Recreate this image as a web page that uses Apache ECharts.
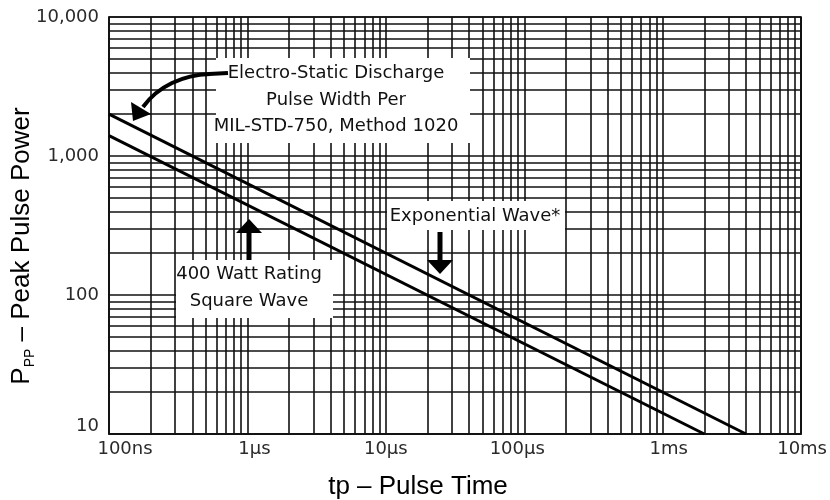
<!DOCTYPE html>
<html>
<head>
<meta charset="utf-8">
<script src="https://cdn.jsdelivr.net/npm/echarts@6/dist/echarts.min.js"></script>
<style>html,body{margin:0;padding:0;background:#fff}#c{width:830px;height:500px}</style>
</head>
<body>
<div id="c"></div>
<script>
// Data (time in seconds, power in watts)
const xTickLabels = ['100ns', '1µs', '10µs', '100µs', '1ms', '10ms'];
const yTickLabels = ['10', '100', '1,000', '10,000'];
const exponentialWave = [[1e-7, 2000], [4e-3, 10]];
const squareWave = [[1e-7, 1400], [2e-3, 10]];

const LBL = 'DejaVu Sans';
const chart = echarts.init(document.getElementById('c'));

const xRich = {
  t0: {padding: [0, 0, 0, 32]},
  t1: {padding: [0, 0, 0, 14]},
  t2: {},
  t3: {padding: [0, 14, 0, 0]},
  t4: {padding: [0, 0, 0, 12]},
  t5: {padding: [0, 0, 0, 2]}
};
Object.keys(xRich).forEach(k => Object.assign(xRich[k], {fontFamily: LBL, fontSize: 18, color: '#2a2a2a'}));
const yRich = {
  l0: {padding: [0, 0, 16, 0]}, l1: {}, l2: {}, l3: {}
};
Object.keys(yRich).forEach(k => Object.assign(yRich[k], {fontFamily: LBL, fontSize: 18, color: '#2a2a2a'}));

const gridLine = {color: '#111', width: 1.6};

chart.setOption({
  animation: false,
  backgroundColor: '#fff',
  grid: {left: 109, right: 28, top: 17, bottom: 66, show: true, borderColor: '#111', borderWidth: 1.5},
  xAxis: {
    type: 'log', logBase: 10, min: 1e-7, max: 1e-2,
    axisLine: {show: true, lineStyle: {color: '#111', width: 1.5}},
    axisTick: {show: false},
    minorTick: {show: false, splitNumber: 9},
    splitLine: {show: true, lineStyle: gridLine},
    minorSplitLine: {show: true, lineStyle: gridLine},
    axisLabel: {
      margin: 6, showMinLabel: true, showMaxLabel: true,
      formatter: v => { const i = Math.round(Math.log10(v)) + 7; return '{t' + i + '|' + xTickLabels[i] + '}'; },
      rich: xRich
    }
  },
  yAxis: {
    type: 'log', logBase: 10, min: 10, max: 10000,
    axisLine: {show: true, lineStyle: {color: '#111', width: 1.5}},
    axisTick: {show: false},
    minorTick: {show: false, splitNumber: 9},
    splitLine: {show: true, lineStyle: gridLine},
    minorSplitLine: {show: true, lineStyle: gridLine},
    axisLabel: {
      margin: 10, showMinLabel: true, showMaxLabel: true,
      formatter: v => { const i = Math.round(Math.log10(v)) - 1; return '{l' + i + '|' + yTickLabels[i] + '}'; },
      rich: yRich
    }
  },
  series: [
    {name: 'Exponential Wave', type: 'line', data: exponentialWave, symbol: 'none', silent: true,
     lineStyle: {color: '#000', width: 3}, z: 5},
    {name: 'Square Wave', type: 'line', data: squareWave, symbol: 'none', silent: true,
     lineStyle: {color: '#000', width: 3}, z: 5}
  ],
  graphic: [
    // white label boxes
    {type: 'rect', z: 100, shape: {x: 216, y: 58, width: 254, height: 85}, style: {fill: '#fff'}},
    {type: 'rect', z: 100, shape: {x: 387, y: 201, width: 178, height: 29}, style: {fill: '#fff'}},
    {type: 'rect', z: 100, shape: {x: 176, y: 260, width: 157, height: 58}, style: {fill: '#fff'}},
    // texts
    {type: 'text', z: 101, x: 336, y: 100, style: {
      text: 'Electro-Static Discharge\nPulse Width Per\nMIL-STD-750, Method 1020',
      font: '18px "DejaVu Sans"', fill: '#111', align: 'center', verticalAlign: 'middle', lineHeight: 26.5}},
    {type: 'text', z: 101, x: 475, y: 216.5, style: {
      text: 'Exponential Wave*', font: '18px "DejaVu Sans"', fill: '#111', align: 'center', verticalAlign: 'middle'}},
    {type: 'text', z: 101, x: 249, y: 288, style: {
      text: '400 Watt Rating\nSquare Wave', font: '18px "DejaVu Sans"', fill: '#111', align: 'center', verticalAlign: 'middle', lineHeight: 26.5}},
    // ESD curved arrow
    {type: 'line', z: 102, shape: {x1: 228, y1: 73, x2: 209, y2: 74}, style: {stroke: '#000', lineWidth: 4}},
    {type: 'bezierCurve', z: 102, shape: {x1: 210, y1: 74, cpx1: 183, cpy1: 75, cpx2: 158, cpy2: 86, x2: 143, y2: 107},
     style: {stroke: '#000', lineWidth: 4, fill: null}},
    {type: 'polygon', z: 102, shape: {points: [[133, 121], [131, 102], [151, 114]]}, style: {fill: '#000'}},
    // Exponential wave arrow (down)
    {type: 'rect', z: 102, shape: {x: 437.5, y: 232, width: 5, height: 29}, style: {fill: '#000'}},
    {type: 'polygon', z: 102, shape: {points: [[427, 260], [453, 260], [440, 274]]}, style: {fill: '#000'}},
    // Square wave arrow (up)
    {type: 'rect', z: 102, shape: {x: 246.5, y: 232, width: 5, height: 28}, style: {fill: '#000'}},
    {type: 'polygon', z: 102, shape: {points: [[236, 233], [262, 233], [249, 219]]}, style: {fill: '#000'}},
    // axis titles
    {type: 'text', z: 101, x: 418, y: 487, style: {
      text: 'tp – Pulse Time', font: '26px "Liberation Sans"', fill: '#000', align: 'center', verticalAlign: 'middle'}},
    {type: 'text', z: 101, x: 22, y: 246, rotation: Math.PI / 2, style: {
      text: '{a|P}{b|PP}{a| – Peak Pulse Power}', align: 'center', verticalAlign: 'middle',
      rich: {
        a: {fontFamily: 'Liberation Sans', fontSize: 26, fill: '#000', lineHeight: 30},
        b: {fontFamily: 'Liberation Sans', fontSize: 14, fill: '#000', lineHeight: 23, verticalAlign: 'bottom'}
      }}}
  ]
});
</script>
</body>
</html>
